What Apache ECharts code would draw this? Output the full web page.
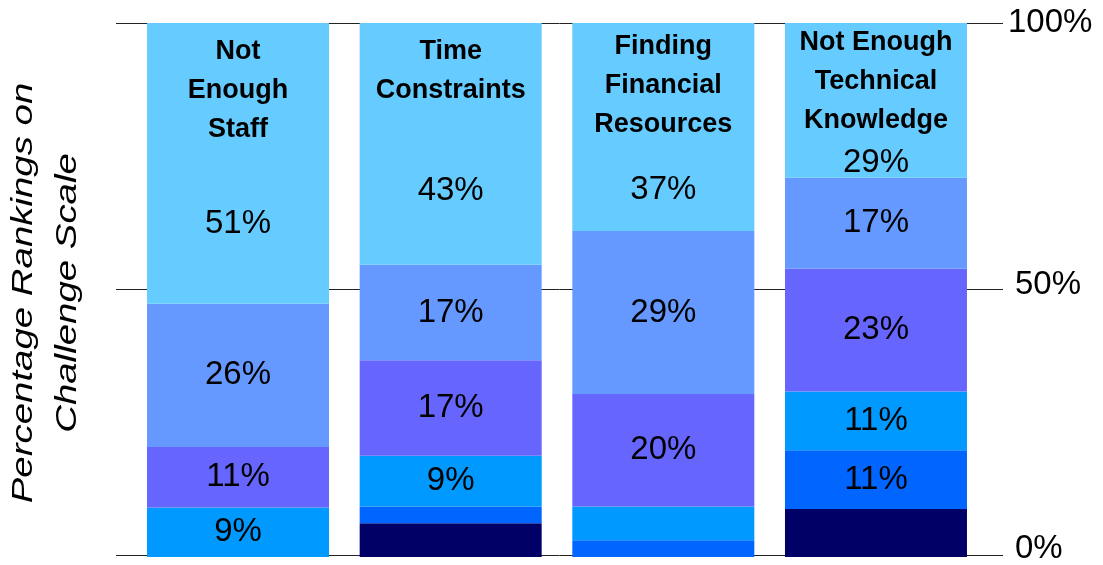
<!DOCTYPE html>
<html>
<head>
<meta charset="utf-8">
<script src="https://cdn.jsdelivr.net/npm/echarts@6/dist/echarts.min.js"></script>
<style>
  html, body { margin: 0; padding: 0; background: #ffffff; }
  #chart { width: 1103px; height: 565px; }
</style>
</head>
<body>
<div id="chart"></div>
<script>
// Challenge categories (as printed at the top of each column)
const categories = [
  'Not\nEnough\nStaff',
  'Time\nConstraints',
  'Finding\nFinancial\nResources',
  'Not Enough\nTechnical\nKnowledge'
];

// Share of respondents per rating band, bottom band first
const rating1 = [0, 6, 0, 9];
const rating2 = [0, 3, 3, 11];
const rating3 = [9, 9, 6, 11];
const rating4 = [11, 17, 20, 23];
const rating5 = [26, 17, 29, 17];
const rating6 = [51, 43, 37, 29];

// Segments printed without a value label: [band, category]
const unlabelled = [[0, 1], [0, 3], [1, 1], [1, 2], [2, 2]];

// Value-axis ticks
const axisTicks = [0, 50, 100];

const ratings = [rating1, rating2, rating3, rating4, rating5, rating6];
const bandColors = ['#000066', '#0066FF', '#0099FF', '#6666FF', '#6699FF', '#66CCFF'];

const BASE_FONT = '"Liberation Sans", Arial, Helvetica, sans-serif';

// Prefer a condensed bold face for the column titles when it is installed
function fontAvailable(name) {
  const ctx = document.createElement('canvas').getContext('2d');
  const probe = 'Constraints Knowledge';
  ctx.font = 'bold 40px monospace';
  const base = ctx.measureText(probe).width;
  ctx.font = 'bold 40px "' + name + '", monospace';
  return ctx.measureText(probe).width !== base;
}
const narrow = fontAvailable('Liberation Sans Narrow');
const titleFont = narrow ? '"Liberation Sans Narrow", ' + BASE_FONT : BASE_FONT;
const titleSize = narrow ? 32 : 27;

// Each column is scaled to 100%
const totals = categories.map((_, c) => ratings.reduce((s, r) => s + r[c], 0));

// Layout of the text stacked in the top band of each column
const titleDistance = [8.7, 8.7, 4.3, 0];      // gap from column top to the title block
const valueLineHeight = [150, 163, 92, 46];    // spacing that drops the value below the title
const TITLE_LINE = 39;

const topRich = {
  t: { fontFamily: titleFont, fontWeight: 'bold', fontSize: titleSize, lineHeight: TITLE_LINE, color: '#000' }
};
valueLineHeight.forEach((h, i) => {
  topRich['v' + i] = { fontFamily: BASE_FONT, fontSize: 33, lineHeight: h, color: '#000' };
});

const series = ratings.map((vals, s) => {
  const isTop = s === ratings.length - 1;
  return {
    type: 'bar',
    name: 'band' + (s + 1),
    stack: 'total',
    xAxisIndex: 0,
    yAxisIndex: 0,
    barWidth: 182,
    silent: true,
    itemStyle: { color: bandColors[s] },
    label: isTop ? {
      show: true,
      position: 'insideTop',
      align: 'center',
      formatter: p => '{t|' + categories[p.dataIndex] + '}\n{v' + p.dataIndex + '|' + vals[p.dataIndex] + '%}',
      rich: topRich
    } : {
      show: true,
      position: 'inside',
      color: '#000',
      fontFamily: BASE_FONT,
      fontSize: 33,
      formatter: p => vals[p.dataIndex] + '%'
    },
    data: vals.map((v, c) => {
      const item = { value: v / totals[c] * 100 };
      if (isTop) {
        item.label = { distance: titleDistance[c] };
      } else if (v === 0 || unlabelled.some(([a, b]) => a === s && b === c)) {
        item.label = { show: false };
      }
      return item;
    })
  };
});

// Tick labels sit slightly off their rules for 50% and 0%
const tickRich = {
  hi: { fontFamily: BASE_FONT, fontSize: 33, color: '#000', padding: [0, 0, 0, 0] },
  mid: { fontFamily: BASE_FONT, fontSize: 33, color: '#000', padding: [0, 0, 8, 7] },
  lo: { fontFamily: BASE_FONT, fontSize: 33, color: '#000', padding: [0, 0, 14, 7] }
};

const chart = echarts.init(document.getElementById('chart'), null, { renderer: 'canvas' });
chart.setOption({
  animation: false,
  backgroundColor: '#ffffff',
  grid: [
    { left: 131.7, right: 120.7, top: 23, bottom: 8 },   // columns
    { left: 116, right: 100, top: 23, bottom: 8 }        // rules and percentage scale
  ],
  xAxis: [
    { gridIndex: 0, type: 'category', data: categories, show: false },
    { gridIndex: 1, type: 'value', min: 0, max: 1, show: false }
  ],
  yAxis: [
    { gridIndex: 0, type: 'value', min: 0, max: 100, show: false },
    {
      gridIndex: 1,
      type: 'value',
      position: 'right',
      min: axisTicks[0],
      max: axisTicks[axisTicks.length - 1],
      interval: axisTicks[1] - axisTicks[0],
      axisLine: { show: false },
      axisTick: { show: false },
      splitLine: { show: true, lineStyle: { color: '#222', width: 1 } },
      axisLabel: {
        margin: 5,
        formatter: v => (v === 0 ? '{lo|' : v === 50 ? '{mid|' : '{hi|') + v + '%}',
        rich: tickRich
      }
    }
  ],
  graphic: [{
    type: 'text',
    x: 45.5,
    y: 293,
    rotation: Math.PI / 2,
    scaleX: 1.28,
    silent: true,
    style: {
      text: 'Percentage Rankings on\nChallenge Scale',
      font: 'italic 30px "Liberation Sans", Arial, sans-serif',
      fill: '#000',
      align: 'center',
      verticalAlign: 'middle',
      lineHeight: 44
    }
  }],
  series: series
});
</script>
</body>
</html>
